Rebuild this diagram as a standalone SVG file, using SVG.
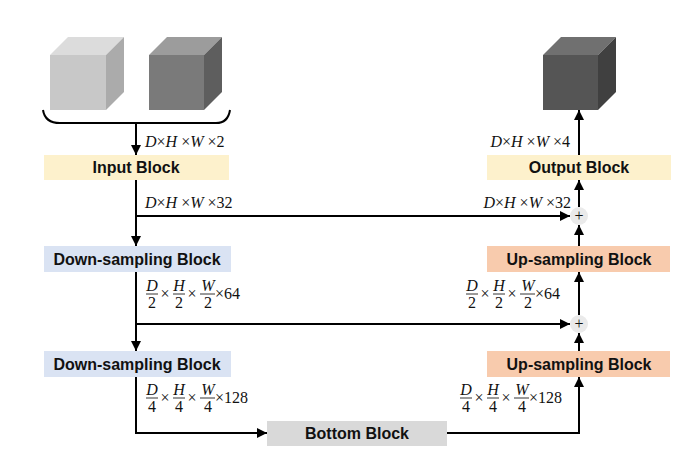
<svg xmlns="http://www.w3.org/2000/svg" width="699" height="456" viewBox="0 0 699 456">
<defs>
<marker id="ah" viewBox="0 0 10 10" refX="10" refY="5" markerWidth="10" markerHeight="10" markerUnits="userSpaceOnUse" orient="auto"><path d="M0,0 L10,5 L0,10 z" fill="#000"/></marker>
<style>
.blk{font-family:"Liberation Sans",sans-serif;font-weight:bold;font-size:16px;text-anchor:middle;fill:#111}
.m{font-family:"Liberation Serif",serif;font-size:16px;fill:#111}
.i{font-style:italic}
.c{text-anchor:middle}
.ln{stroke:#000;stroke-width:2;fill:none}
.bar{stroke:#000;stroke-width:0.8}
</style>
</defs>
<rect width="699" height="456" fill="#fff"/>
<g id="cube-in1"><polygon points="50,55 68,37 124,37 106,55" fill="#dcdcdc"/><polygon points="106,55 124,37 124,92 106,110" fill="#ababab"/><rect x="50" y="55" width="56" height="55" fill="#c8c8c8"/></g>
<g id="cube-in2"><polygon points="149,55 167,37 222,37 204,55" fill="#9c9c9c"/><polygon points="204,55 222,37 222,92 204,110" fill="#5e5e5e"/><rect x="149" y="55" width="55" height="55" fill="#7a7a7a"/></g>
<g id="cube-out"><polygon points="543,55 561,37 616,37 598,55" fill="#707070"/><polygon points="598,55 616,37 616,92 598,110" fill="#404040"/><rect x="543" y="55" width="55" height="55" fill="#555"/></g>
<g id="brace"><path d="M43,110 Q45,123 60,123 L216,123 Q228,123 230,110" class="ln"/></g>
<g id="input"><rect x="44" y="155" width="185" height="25" fill="#fdf1cc"/><text class="blk" x="136" y="173">Input Block</text></g>
<g id="down1"><rect x="44" y="246" width="187" height="26" fill="#dae3f3"/><text class="blk" x="137" y="265">Down-sampling Block</text></g>
<g id="down2"><rect x="44" y="351" width="187" height="26" fill="#dae3f3"/><text class="blk" x="137" y="370">Down-sampling Block</text></g>
<g id="bottom"><rect x="267" y="421" width="180" height="25" fill="#d9d9d9"/><text class="blk" x="357" y="439">Bottom Block</text></g>
<g id="up2"><rect x="487" y="351" width="183" height="26" fill="#f8cbad"/><text class="blk" x="579" y="370">Up-sampling Block</text></g>
<g id="up1"><rect x="487" y="246" width="183" height="26" fill="#f8cbad"/><text class="blk" x="579" y="265">Up-sampling Block</text></g>
<g id="output"><rect x="487" y="155" width="184" height="25" fill="#fdf1cc"/><text class="blk" x="579" y="173">Output Block</text></g>
<g id="add1"><circle cx="579" cy="216" r="9" fill="#eaeaea"/><text class="m c" x="579" y="221" font-size="14">+</text></g>
<g id="add2"><circle cx="579" cy="324" r="9" fill="#eaeaea"/><text class="m c" x="579" y="329" font-size="14">+</text></g>
<g id="connectors">
<line class="ln" x1="136" y1="123" x2="136" y2="155" marker-end="url(#ah)"/>
<line class="ln" x1="136" y1="180" x2="136" y2="246" marker-end="url(#ah)"/>
<line class="ln" x1="136" y1="216" x2="570" y2="216" marker-end="url(#ah)"/>
<line class="ln" x1="136" y1="272" x2="136" y2="351" marker-end="url(#ah)"/>
<line class="ln" x1="136" y1="324" x2="570" y2="324" marker-end="url(#ah)"/>
<polyline class="ln" points="136,377 136,433 267,433" marker-end="url(#ah)"/>
<polyline class="ln" points="447,433 579,433 579,377" marker-end="url(#ah)"/>
<line class="ln" x1="579" y1="351" x2="579" y2="333" marker-end="url(#ah)"/>
<line class="ln" x1="579" y1="315" x2="579" y2="272" marker-end="url(#ah)"/>
<line class="ln" x1="579" y1="246" x2="579" y2="225" marker-end="url(#ah)"/>
<line class="ln" x1="579" y1="207" x2="579" y2="180" marker-end="url(#ah)"/>
<line class="ln" x1="579" y1="155" x2="579" y2="110" marker-end="url(#ah)"/>
</g>
<g id="labels">
<text class="m" x="145" y="147"><tspan class="i">D</tspan>×<tspan class="i">H</tspan> ×<tspan class="i">W</tspan> ×2</text>
<text class="m" x="145" y="208"><tspan class="i">D</tspan>×<tspan class="i">H</tspan> ×<tspan class="i">W</tspan> ×32</text>
<text class="m" x="570" y="147" text-anchor="end"><tspan class="i">D</tspan>×<tspan class="i">H</tspan> ×<tspan class="i">W</tspan> ×4</text>
<text class="m" x="571" y="208" text-anchor="end"><tspan class="i">D</tspan>×<tspan class="i">H</tspan> ×<tspan class="i">W</tspan> ×32</text>
<g id="f64l">
<text class="m i c" x="152" y="291">D</text><line class="bar" x1="146" y1="294" x2="158" y2="294"/><text class="m c" x="152" y="308">2</text>
<text class="m c" x="165" y="299">×</text>
<text class="m i c" x="179" y="291">H</text><line class="bar" x1="173" y1="294" x2="185" y2="294"/><text class="m c" x="179" y="308">2</text>
<text class="m c" x="192" y="299">×</text>
<text class="m i c" x="208" y="291">W</text><line class="bar" x1="200" y1="294" x2="215" y2="294"/><text class="m c" x="208" y="308">2</text>
<text class="m" x="215" y="299">×64</text>
</g>
<g id="f64r" transform="translate(320,0)">
<text class="m i c" x="152" y="291">D</text><line class="bar" x1="146" y1="294" x2="158" y2="294"/><text class="m c" x="152" y="308">2</text>
<text class="m c" x="165" y="299">×</text>
<text class="m i c" x="179" y="291">H</text><line class="bar" x1="173" y1="294" x2="185" y2="294"/><text class="m c" x="179" y="308">2</text>
<text class="m c" x="192" y="299">×</text>
<text class="m i c" x="208" y="291">W</text><line class="bar" x1="200" y1="294" x2="215" y2="294"/><text class="m c" x="208" y="308">2</text>
<text class="m" x="215" y="299">×64</text>
</g>
<g id="f128l" transform="translate(0,104)">
<text class="m i c" x="152" y="291">D</text><line class="bar" x1="146" y1="294" x2="158" y2="294"/><text class="m c" x="152" y="308">4</text>
<text class="m c" x="165" y="299">×</text>
<text class="m i c" x="179" y="291">H</text><line class="bar" x1="173" y1="294" x2="185" y2="294"/><text class="m c" x="179" y="308">4</text>
<text class="m c" x="192" y="299">×</text>
<text class="m i c" x="208" y="291">W</text><line class="bar" x1="200" y1="294" x2="215" y2="294"/><text class="m c" x="208" y="308">4</text>
<text class="m" x="215" y="299">×128</text>
</g>
<g id="f128r" transform="translate(314,104)">
<text class="m i c" x="152" y="291">D</text><line class="bar" x1="146" y1="294" x2="158" y2="294"/><text class="m c" x="152" y="308">4</text>
<text class="m c" x="165" y="299">×</text>
<text class="m i c" x="179" y="291">H</text><line class="bar" x1="173" y1="294" x2="185" y2="294"/><text class="m c" x="179" y="308">4</text>
<text class="m c" x="192" y="299">×</text>
<text class="m i c" x="208" y="291">W</text><line class="bar" x1="200" y1="294" x2="215" y2="294"/><text class="m c" x="208" y="308">4</text>
<text class="m" x="215" y="299">×128</text>
</g>
</g>
</svg>
